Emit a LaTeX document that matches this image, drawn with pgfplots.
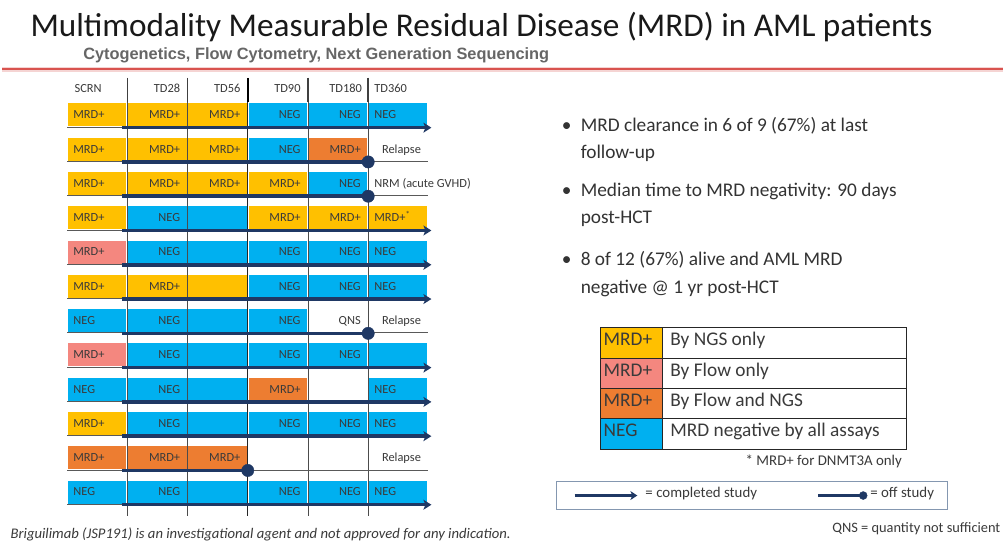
\documentclass[border=0pt]{standalone}
\usepackage{pgfplots}
\pgfplotsset{compat=1.18}
\usetikzlibrary{arrows.meta}
\usepackage{fontspec}
\setmainfont{Carlito}
\newfontfamily\arialf{Liberation Sans}
\definecolor{cY}{HTML}{FFC000}
\definecolor{cP}{HTML}{F4877F}
\definecolor{cO}{HTML}{ED7D31}
\definecolor{cB}{HTML}{00B0F0}
\definecolor{navy}{HTML}{1F3864}
\definecolor{txt}{HTML}{3A3A3A}
\definecolor{cRed}{HTML}{D9534F}
\definecolor{cBox}{HTML}{8497B0}
\newcommand\cellfont{\fontsize{12.5}{14}\selectfont}
\newcommand\bfont{\fontsize{19.5}{23}\selectfont}
\newcommand\lfont{\fontsize{19.5}{23}\selectfont}
% cell{col}{row}{colour}
\newcommand\cell[3]{\addplot[fill=#3, draw=none] coordinates {(#1.015,#2) (#1.985,#2) (#1.985,#2.67) (#1.015,#2.67)} --cycle;}
% right aligned text in column col
\newcommand\tR[3]{\node[anchor=mid east, inner sep=0, font=\cellfont, text=txt] at (axis cs:#1.88,#2.38) {#3};}
% left aligned text in column col
\newcommand\tL[3]{\node[anchor=mid west, inner sep=0, font=\cellfont, text=txt] at (axis cs:#1.1,#2.38) {#3};}
\newcommand\baseln[1]{\addplot[draw=black!65, line width=0.8bp] coordinates {(0,#1.69) (6,#1.69)};}
\newcommand\arrowrow[1]{\addplot[draw=navy, line width=3.5bp, -{Stealth[length=8bp,width=10bp,inset=2bp]}] coordinates {(0.91,#1.705) (6.05,#1.705)};}
\newcommand\dotrow[2]{\addplot[draw=navy, line width=3.5bp] coordinates {(0.91,#1.705) (#2,#1.705)};
\addplot[only marks, mark=*, mark size=6.2bp, color=navy] coordinates {(#2,#1.705)};}
\begin{document}
\begin{tikzpicture}
\begin{axis}[x=1bp, y=1bp, xmin=0, xmax=1005, ymin=0, ymax=542, y dir=reverse,
  hide axis, clip=false, scale only axis]
\addplot[fill=white, draw=none] coordinates {(0,0) (1005,0) (1005,542) (0,542)} --cycle;
% red rule
\addplot[draw=cRed!25, line width=5bp] coordinates {(0,70) (1005,70)};
\addplot[draw=cRed, line width=1.6bp] coordinates {(0,69.5) (1005,69.5)};
% titles
\node[anchor=base west, inner sep=0, font=\fontsize{33.5}{38}\selectfont, text=black!90] at (axis cs:28,37) {Multimodality Measurable Residual Disease (MRD) in AML patients};
\node[anchor=base west, inner sep=0, font=\arialf\bfseries\fontsize{16.5}{19}\selectfont, text=black!60] at (axis cs:81,59.5) {Cytogenetics, Flow Cytometry, Next Generation Sequencing};
% bullets
\node[anchor=base west, inner sep=0, font=\bfont, text=black!80] at (axis cs:562,132.5) {•};
\node[anchor=base west, inner sep=0, font=\bfont, text=black!80] at (axis cs:562,197.5) {•};
\node[anchor=base west, inner sep=0, font=\bfont, text=black!80] at (axis cs:562,266.5) {•};
\node[anchor=base west, inner sep=0, font=\bfont, text=black!80] at (axis cs:581,132.5) {MRD clearance in 6 of 9 (67\%) at last};
\node[anchor=base west, inner sep=0, font=\bfont, text=black!80] at (axis cs:581,159.5) {follow-up};
\node[anchor=base west, inner sep=0, font=\bfont, text=black!80] at (axis cs:581,197.5) {Median time to MRD negativity: 90 days};
\node[anchor=base west, inner sep=0, font=\bfont, text=black!80] at (axis cs:581,224.5) {post-HCT};
\node[anchor=base west, inner sep=0, font=\bfont, text=black!80] at (axis cs:581,266.5) {8 of 12 (67\%) alive and AML MRD};
\node[anchor=base west, inner sep=0, font=\bfont, text=black!80] at (axis cs:581,294.5) {negative @ 1 yr post-HCT};
% legend table
\addplot[fill=cY, draw=none] coordinates {(601,329) (663,329) (663,360) (601,360)} --cycle;
\addplot[fill=cP, draw=none] coordinates {(601,360) (663,360) (663,390.5) (601,390.5)} --cycle;
\addplot[fill=cO, draw=none] coordinates {(601,390.5) (663,390.5) (663,421) (601,421)} --cycle;
\addplot[fill=cB, draw=none] coordinates {(601,421) (663,421) (663,451.5) (601,451.5)} --cycle;
\addplot[draw=black!85, line width=1bp] coordinates {(601,329) (908,329) (908,451.5) (601,451.5)} --cycle;
\addplot[draw=black!85, line width=1bp] coordinates {(663,329) (663,451.5)};
\addplot[draw=black!85, line width=1bp] coordinates {(601,360) (908,360)};
\addplot[draw=black!85, line width=1bp] coordinates {(601,390.5) (908,390.5)};
\addplot[draw=black!85, line width=1bp] coordinates {(601,421) (908,421)};
\node[anchor=mid west, inner sep=0, font=\lfont, text=txt] at (axis cs:604,345) {MRD+};
\node[anchor=mid west, inner sep=0, font=\lfont, text=txt] at (axis cs:604,375.5) {MRD+};
\node[anchor=mid west, inner sep=0, font=\lfont, text=txt] at (axis cs:604,406) {MRD+};
\node[anchor=mid west, inner sep=0, font=\lfont, text=txt] at (axis cs:604,436.5) {NEG};
\node[anchor=mid west, inner sep=0, font=\lfont, text=txt] at (axis cs:671,345) {By NGS only};
\node[anchor=mid west, inner sep=0, font=\lfont, text=txt] at (axis cs:671,375.5) {By Flow only};
\node[anchor=mid west, inner sep=0, font=\lfont, text=txt] at (axis cs:671,406) {By Flow and NGS};
\node[anchor=mid west, inner sep=0, font=\lfont, text=txt] at (axis cs:671,436.5) {MRD negative by all assays};
\node[anchor=mid east, inner sep=0, font=\fontsize{15}{17}\selectfont, text=txt] at (axis cs:904,465) {* MRD+ for DNMT3A only};
% line legend box
\addplot[draw=cBox, line width=1.3bp] coordinates {(557,484) (950,484) (950,512) (557,512)} --cycle;
\addplot[draw=navy, line width=3bp, -{Stealth[length=7bp,width=9bp,inset=2bp]}] coordinates {(575,498) (638,498)};
\node[anchor=mid west, inner sep=0, font=\fontsize{15}{17}\selectfont, text=txt] at (axis cs:646,498) {= completed study};
\addplot[draw=navy, line width=2.2bp] coordinates {(820,498) (865,498)};
\addplot[only marks, mark=*, mark size=4bp, color=navy] coordinates {(865,498)};
\node[anchor=mid west, inner sep=0, font=\fontsize{15}{17}\selectfont, text=txt] at (axis cs:872,498) {= off study};
\node[anchor=mid east, inner sep=0, font=\fontsize{14.5}{16}\selectfont, text=txt] at (axis cs:1003,533) {QNS = quantity not sufficient};
\node[anchor=base west, inner sep=0, font=\itshape\fontsize{14.8}{17}\selectfont, text=txt] at (axis cs:8,541) {Briguilimab (JSP191) is an investigational agent and not approved for any indication.};
\coordinate (tl) at (axis cs:65,104);
\end{axis}

\begin{axis}[at={(tl)}, anchor=north west, x=60.5bp, y=34.45bp, xmin=0, xmax=6, ymin=0, ymax=12,
  y dir=reverse, hide axis, clip=false, scale only axis]
% column grid lines
\addplot[draw=black!70, line width=0.8bp] coordinates {(1,-0.75) (1,12.03)};
\addplot[draw=black!70, line width=0.8bp] coordinates {(2,-0.75) (2,12.03)};
\addplot[draw=black!85, line width=1bp] coordinates {(3,-0.75) (3,12.03)};
\addplot[draw=black!70, line width=0.8bp] coordinates {(4,-0.75) (4,12.03)};
\addplot[draw=black!70, line width=0.8bp] coordinates {(5,-0.75) (5,12.03)};
\addplot[draw=black!75, line width=1.4bp] coordinates {(1,-0.75) (1,-0.05)};
\addplot[draw=black!75, line width=1.4bp] coordinates {(2,-0.75) (2,-0.05)};
\addplot[draw=black, line width=1.8bp] coordinates {(3,-0.75) (3,-0.05)};
\addplot[draw=black!75, line width=1.4bp] coordinates {(4,-0.75) (4,-0.05)};
\addplot[draw=black!75, line width=1.4bp] coordinates {(5,-0.75) (5,-0.05)};
% header
\node[anchor=mid west, inner sep=0, font=\fontsize{12.5}{14}\selectfont, text=txt] at (axis cs:0.12,-0.38) {SCRN};
\node[anchor=mid east, inner sep=0, font=\fontsize{12.5}{14}\selectfont, text=txt] at (axis cs:1.88,-0.38) {TD28};
\node[anchor=mid east, inner sep=0, font=\fontsize{12.5}{14}\selectfont, text=txt] at (axis cs:2.88,-0.38) {TD56};
\node[anchor=mid east, inner sep=0, font=\fontsize{12.5}{14}\selectfont, text=txt] at (axis cs:3.88,-0.38) {TD90};
\node[anchor=mid east, inner sep=0, font=\fontsize{12.5}{14}\selectfont, text=txt] at (axis cs:4.9,-0.38) {TD180};
\node[anchor=mid west, inner sep=0, font=\fontsize{12.5}{14}\selectfont, text=txt] at (axis cs:5.1,-0.38) {TD360};
% cells
\cell{0}{0}{cY}\cell{1}{0}{cY}\cell{2}{0}{cY}\cell{3}{0}{cB}\cell{4}{0}{cB}\cell{5}{0}{cB}
\cell{0}{1}{cY}\cell{1}{1}{cY}\cell{2}{1}{cY}\cell{3}{1}{cB}\cell{4}{1}{cO}
\cell{0}{2}{cY}\cell{1}{2}{cY}\cell{2}{2}{cY}\cell{3}{2}{cY}\cell{4}{2}{cB}
\cell{0}{3}{cY}\cell{1}{3}{cB}\cell{2}{3}{cB}\cell{3}{3}{cY}\cell{4}{3}{cY}\cell{5}{3}{cY}
\cell{0}{4}{cP}\cell{1}{4}{cB}\cell{2}{4}{cB}\cell{3}{4}{cB}\cell{4}{4}{cB}\cell{5}{4}{cB}
\cell{0}{5}{cY}\cell{1}{5}{cY}\cell{2}{5}{cY}\cell{3}{5}{cB}\cell{4}{5}{cB}\cell{5}{5}{cB}
\cell{0}{6}{cB}\cell{1}{6}{cB}\cell{2}{6}{cB}\cell{3}{6}{cB}
\cell{0}{7}{cP}\cell{1}{7}{cB}\cell{2}{7}{cB}\cell{3}{7}{cB}\cell{4}{7}{cB}\cell{5}{7}{cB}
\cell{0}{8}{cB}\cell{1}{8}{cB}\cell{2}{8}{cB}\cell{3}{8}{cO}\cell{5}{8}{cB}
\cell{0}{9}{cY}\cell{1}{9}{cB}\cell{2}{9}{cB}\cell{3}{9}{cB}\cell{4}{9}{cB}\cell{5}{9}{cB}
\cell{0}{10}{cO}\cell{1}{10}{cO}\cell{2}{10}{cO}
\cell{0}{11}{cB}\cell{1}{11}{cB}\cell{2}{11}{cB}\cell{3}{11}{cB}\cell{4}{11}{cB}\cell{5}{11}{cB}
% baselines
\baseln{0}\baseln{1}\baseln{2}\baseln{3}\baseln{4}\baseln{5}
\baseln{6}\baseln{7}\baseln{8}\baseln{9}\baseln{10}\baseln{11}
% study lines
\arrowrow{0}\dotrow{1}{5}\dotrow{2}{5}\arrowrow{3}\arrowrow{4}\arrowrow{5}
\dotrow{6}{5}\arrowrow{7}\arrowrow{8}\arrowrow{9}\dotrow{10}{3}\arrowrow{11}
% texts
\tL{0}{0}{MRD+}\tR{1}{0}{MRD+}\tR{2}{0}{MRD+}\tR{3}{0}{NEG}\tR{4}{0}{NEG}\tL{5}{0}{NEG}
\tL{0}{1}{MRD+}\tR{1}{1}{MRD+}\tR{2}{1}{MRD+}\tR{3}{1}{NEG}\tR{4}{1}{MRD+}\tR{5}{1}{Relapse}
\tL{0}{2}{MRD+}\tR{1}{2}{MRD+}\tR{2}{2}{MRD+}\tR{3}{2}{MRD+}\tR{4}{2}{NEG}\tL{5}{2}{NRM (acute GVHD)}
\tL{0}{3}{MRD+}\tR{1}{3}{NEG}\tR{3}{3}{MRD+}\tR{4}{3}{MRD+}\tL{5}{3}{MRD+\textsuperscript{*}}
\tL{0}{4}{MRD+}\tR{1}{4}{NEG}\tR{3}{4}{NEG}\tR{4}{4}{NEG}\tL{5}{4}{NEG}
\tL{0}{5}{MRD+}\tR{1}{5}{MRD+}\tR{3}{5}{NEG}\tR{4}{5}{NEG}\tL{5}{5}{NEG}
\tL{0}{6}{NEG}\tR{1}{6}{NEG}\tR{3}{6}{NEG}\tR{4}{6}{QNS}\tR{5}{6}{Relapse}
\tL{0}{7}{MRD+}\tR{1}{7}{NEG}\tR{3}{7}{NEG}\tR{4}{7}{NEG}
\tL{0}{8}{NEG}\tR{1}{8}{NEG}\tR{3}{8}{MRD+}\tL{5}{8}{NEG}
\tL{0}{9}{MRD+}\tR{1}{9}{NEG}\tR{3}{9}{NEG}\tR{4}{9}{NEG}\tL{5}{9}{NEG}
\tL{0}{10}{MRD+}\tR{1}{10}{MRD+}\tR{2}{10}{MRD+}\tR{5}{10}{Relapse}
\tL{0}{11}{NEG}\tR{1}{11}{NEG}\tR{3}{11}{NEG}\tR{4}{11}{NEG}\tL{5}{11}{NEG}
\end{axis}
\end{tikzpicture}
\end{document}
